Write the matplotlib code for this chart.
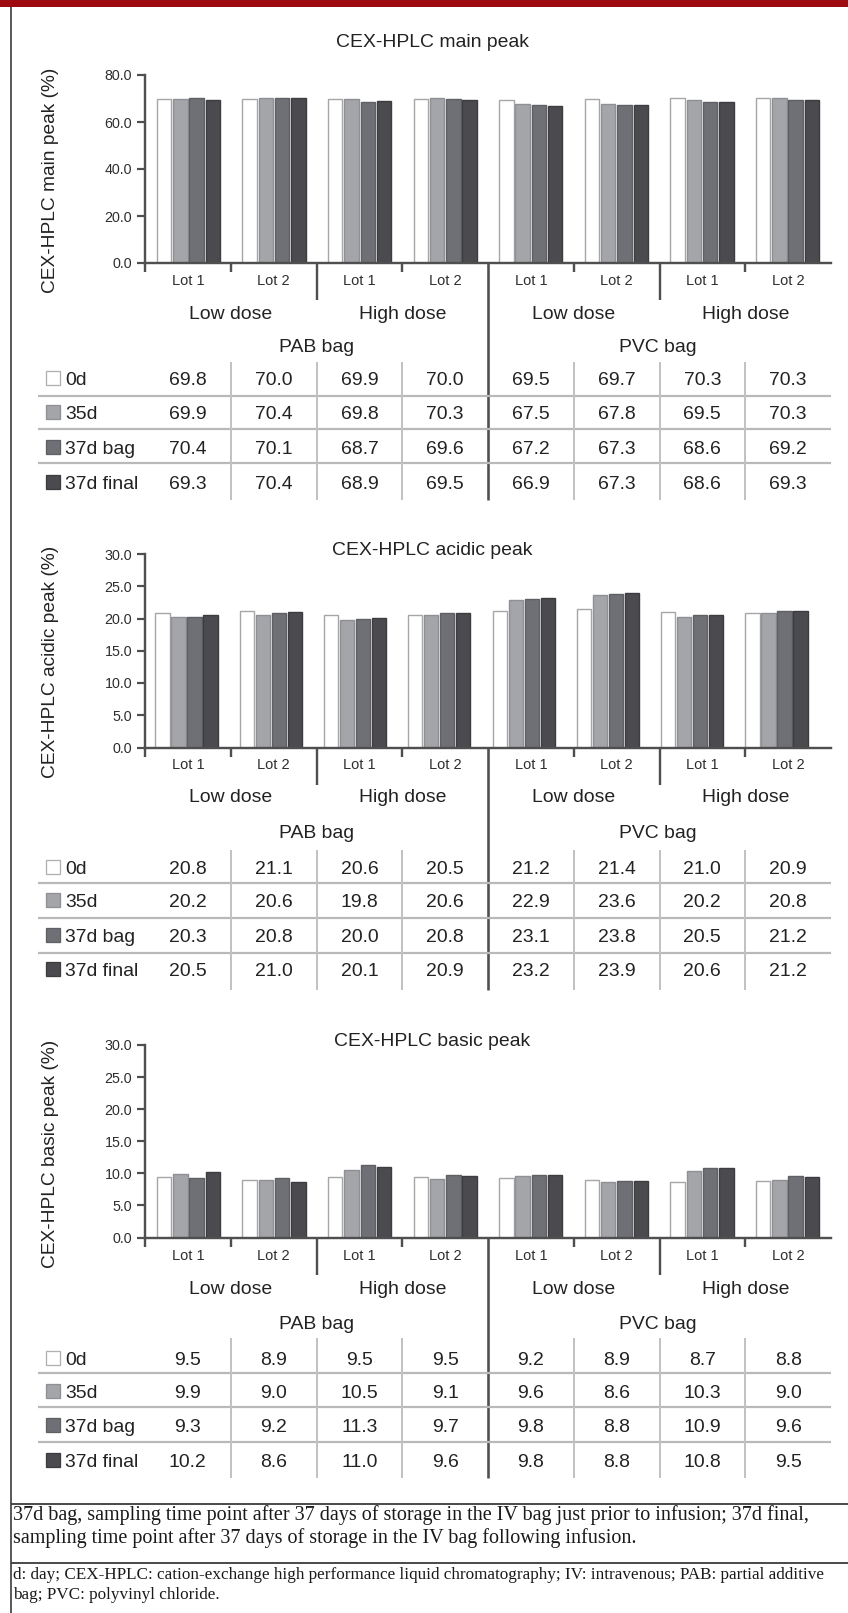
import numpy as np
import matplotlib
matplotlib.use("Agg")
import matplotlib.pyplot as plt
from matplotlib.patches import Rectangle

# ---------------- data ----------------
lot_labels = ["Lot 1", "Lot 2", "Lot 1", "Lot 2", "Lot 1", "Lot 2", "Lot 1", "Lot 2"]
dose_labels = ["Low dose", "High dose", "Low dose", "High dose"]
bag_labels = ["PAB bag", "PVC bag"]
series_labels = ["0d", "35d", "37d bag", "37d final"]

main_0d = [69.8, 70.0, 69.9, 70.0, 69.5, 69.7, 70.3, 70.3]
main_35d = [69.9, 70.4, 69.8, 70.3, 67.5, 67.8, 69.5, 70.3]
main_37d_bag = [70.4, 70.1, 68.7, 69.6, 67.2, 67.3, 68.6, 69.2]
main_37d_final = [69.3, 70.4, 68.9, 69.5, 66.9, 67.3, 68.6, 69.3]

acidic_0d = [20.8, 21.1, 20.6, 20.5, 21.2, 21.4, 21.0, 20.9]
acidic_35d = [20.2, 20.6, 19.8, 20.6, 22.9, 23.6, 20.2, 20.8]
acidic_37d_bag = [20.3, 20.8, 20.0, 20.8, 23.1, 23.8, 20.5, 21.2]
acidic_37d_final = [20.5, 21.0, 20.1, 20.9, 23.2, 23.9, 20.6, 21.2]

basic_0d = [9.5, 8.9, 9.5, 9.5, 9.2, 8.9, 8.7, 8.8]
basic_35d = [9.9, 9.0, 10.5, 9.1, 9.6, 8.6, 10.3, 9.0]
basic_37d_bag = [9.3, 9.2, 11.3, 9.7, 9.8, 8.8, 10.9, 9.6]
basic_37d_final = [10.2, 8.6, 11.0, 9.6, 9.8, 8.8, 10.8, 9.5]

footnote_1 = ("37d bag, sampling time point after 37 days of storage in the IV bag just prior to infusion; 37d final,",
              "sampling time point after 37 days of storage in the IV bag following infusion.")
footnote_2 = ("d: day; CEX-HPLC: cation-exchange high performance liquid chromatography; IV: intravenous; PAB: partial additive",
              "bag; PVC: polyvinyl chloride.")

# ---------------- style ----------------
W, H, DPI = 848, 1613, 100
SANS = "Liberation Sans"
SERIF = "Liberation Serif"
INK = "#222222"
AXIS = "#4f4f4f"
RULE = "#b9b9b9"
bar_faces = ["#ffffff", "#a4a5a9", "#6f7075", "#4b4b4f"]
bar_edges = ["#a6a6a6", "#8f9095", "#5f6065", "#3d3d41"]

PT = 0.72  # points per pixel at 100 dpi

fig = plt.figure(figsize=(W / DPI, H / DPI), dpi=DPI)
fig.patch.set_facecolor("white")

# pixel-space canvas for frame, tables and annotations
ov = fig.add_axes([0, 0, 1, 1])
ov.set_xlim(0, W)
ov.set_ylim(H, 0)
ov.axis("off")


def put(x, y, s, size_px, ha="center", family=SANS, color=INK):
    """Place text so that the middle of its capitals sits at y."""
    ov.text(x, y + 0.358 * size_px, s, fontsize=size_px * PT, ha=ha,
            va="baseline", family=family, color=color)


def hline(y, x0, x1, color, width_px):
    ov.plot([x0, x1], [y, y], color=color, lw=width_px * PT, solid_capstyle="butt")


def vline(x, y0, y1, color, width_px):
    ov.plot([x, x], [y0, y1], color=color, lw=width_px * PT, solid_capstyle="butt")


# frame
ov.add_patch(Rectangle((0, 0), W, 7, color="#9d0b10", lw=0))
vline(11, 7, H, "#5c5c5c", 2)

# horizontal layout of the group columns
X0, X1 = 145, 831
gw = (X1 - X0) / 8
bounds = [X0 + i * gw for i in range(9)]
centers = [X0 + (i + 0.5) * gw for i in range(8)]

panels = [
    dict(title="CEX-HPLC main peak", ylabel="CEX-HPLC main peak (%)",
         series=[main_0d, main_35d, main_37d_bag, main_37d_final], ymax=80, ystep=20,
         title_y=40, top=75, bottom=263, lot_y=280, dose_y=312, bag_y=345,
         rows=[378, 412, 447, 482], rules=[396, 429, 463], vtop=362, vbot=500,
         bar_centers=(188.5, 787.5)),
    dict(title="CEX-HPLC acidic peak", ylabel="CEX-HPLC acidic peak (%)",
         series=[acidic_0d, acidic_35d, acidic_37d_bag, acidic_37d_final], ymax=30, ystep=5,
         title_y=548, top=554, bottom=747.5, lot_y=764, dose_y=795, bag_y=831,
         rows=[867, 900, 935, 969], rules=[883, 918, 953], vtop=850, vbot=990,
         bar_centers=(186.5, 776.5)),
    dict(title="CEX-HPLC basic peak", ylabel="CEX-HPLC basic peak (%)",
         series=[basic_0d, basic_35d, basic_37d_bag, basic_37d_final], ymax=30, ystep=5,
         title_y=1039, top=1045, bottom=1237.5, lot_y=1255, dose_y=1287, bag_y=1322,
         rows=[1358, 1391, 1425, 1460], rules=[1373, 1407, 1442], vtop=1338, vbot=1478,
         bar_centers=(188.5, 787.5)),
]

BAR_STEP = 0.19
BAR_W = 0.168

for p in panels:
    top, bottom = p["top"], p["bottom"]
    ax = fig.add_axes([X0 / W, 1 - bottom / H, (X1 - X0) / W, (bottom - top) / H])
    ax.patch.set_visible(False)

    # data x-range so the bar clusters land on their columns
    c0, c1 = p["bar_centers"]
    unit = (c1 - c0) / 7
    a = 0.5 - (c0 - X0) / unit
    ax.set_xlim(a, a + (X1 - X0) / unit)
    ax.set_ylim(0, p["ymax"])

    xs = np.arange(8) + 0.5
    for k, vals in enumerate(p["series"]):
        ax.bar(xs + (k - 1.5) * BAR_STEP, vals, width=BAR_W, color=bar_faces[k],
               edgecolor=bar_edges[k], linewidth=1.0, zorder=2)

    for side in ("top", "right"):
        ax.spines[side].set_visible(False)
    for side in ("left", "bottom"):
        ax.spines[side].set_color(AXIS)
        ax.spines[side].set_linewidth(2.4 * PT)
        ax.spines[side].set_zorder(3)
    ax.set_xticks([])
    yt = np.arange(0, p["ymax"] + 0.1, p["ystep"])
    ax.set_yticks(yt)
    ax.set_yticklabels([f"{v:.1f}" for v in yt], family=SANS, fontsize=14.2 * PT, color="#2e2e2e")
    ax.tick_params(axis="y", direction="out", length=8 * PT, width=2.2 * PT, color=AXIS, pad=5 * PT)

    # title and y label
    put(432, p["title_y"], p["title"], 19.4)
    ov.text(51, bottom + 30, p["ylabel"], rotation=90, ha="center", va="bottom",
            fontsize=19.2 * PT, family=SANS, color=INK)

    # category ticks and dividers below the x axis
    for i in (0, 1, 3, 5, 7):
        vline(bounds[i], bottom, bottom + 9, AXIS, 2.4)
    for i in (2, 6):
        vline(bounds[i], bottom, bottom + 37, AXIS, 2.4)
    vline(bounds[4], bottom, p["vbot"], AXIS, 2.6)

    for i, lab in enumerate(lot_labels):
        put(centers[i], p["lot_y"], lab, 14.6, color="#2e2e2e")
    for j, lab in enumerate(dose_labels):
        put(bounds[2 * j + 1], p["dose_y"], lab, 19.4)
    put(bounds[2], p["bag_y"], bag_labels[0], 19.4)
    put(bounds[6] - 2, p["bag_y"], bag_labels[1], 19.4)

    # value table
    for y in p["rules"]:
        hline(y, 38, X1, RULE, 2.2)
    for i in (1, 2, 3, 5, 6, 7):
        vline(bounds[i], p["vtop"], p["vbot"], "#c2c2c2", 2.0)
    for k, (lab, vals) in enumerate(zip(series_labels, p["series"])):
        y = p["rows"][k]
        ov.add_patch(Rectangle((45.5, y - 7), 14, 14, facecolor=bar_faces[k],
                               edgecolor=bar_edges[k] if k else "#b0b0b0", lw=1.3 * PT))
        put(65, y, lab, 19.4, ha="left")
        for i, v in enumerate(vals):
            put(centers[i], y, f"{v:.1f}", 19.4)

# footnotes
hline(1504, 11, W, "#3a3a3a", 1.8)
hline(1563, 11, W, "#3a3a3a", 1.8)
ov.text(13, 1520, footnote_1[0], fontsize=14.5, family=SERIF, color="#1a1a1a", va="baseline")
ov.text(13, 1543, footnote_1[1], fontsize=14.5, family=SERIF, color="#1a1a1a", va="baseline")
ov.text(13, 1579, footnote_2[0], fontsize=12.3, family=SERIF, color="#1a1a1a", va="baseline")
ov.text(13, 1599, footnote_2[1], fontsize=12.3, family=SERIF, color="#1a1a1a", va="baseline")

fig.savefig("out.png", dpi=DPI)
